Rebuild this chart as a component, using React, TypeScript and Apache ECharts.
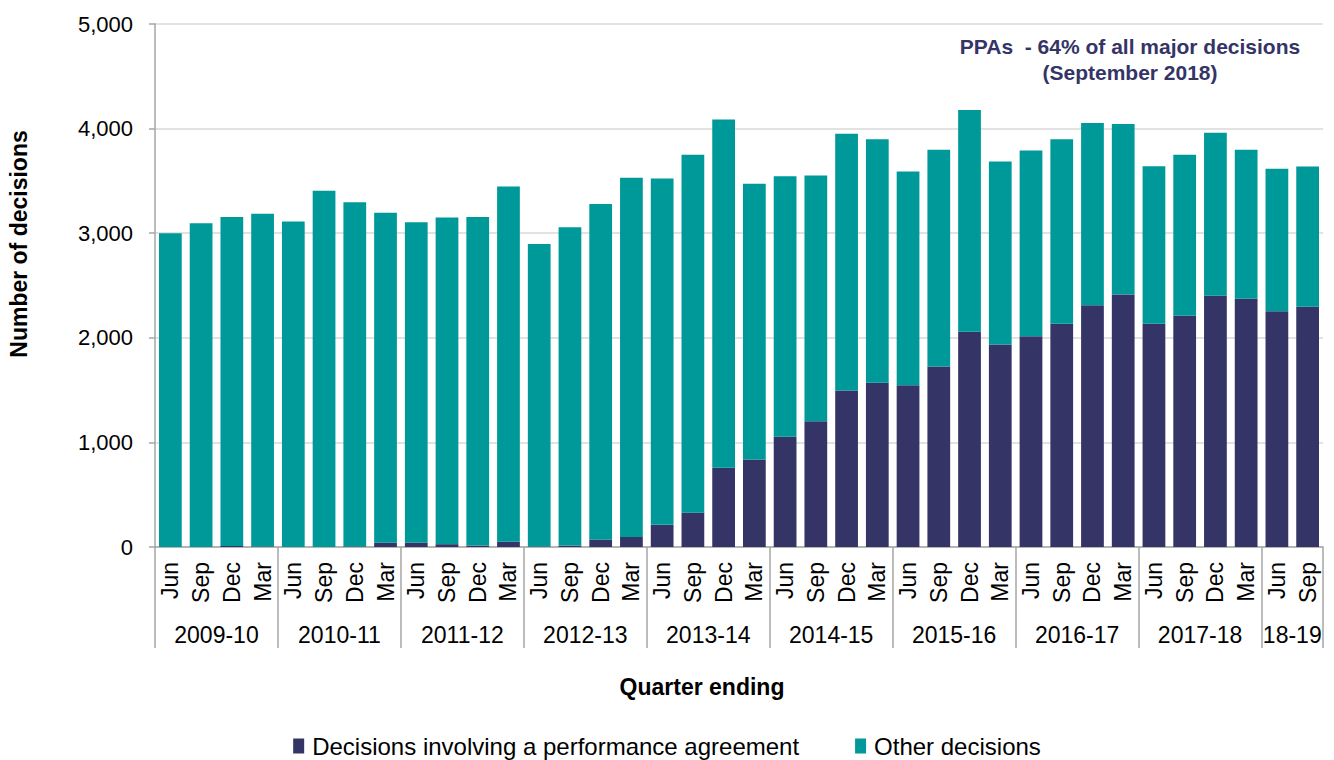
import React, { useEffect, useRef } from "react";
import * as echarts from "echarts";

const months = [
  "Jun", "Sep", "Dec", "Mar", "Jun", "Sep", "Dec", "Mar", "Jun", "Sep", "Dec", "Mar",
  "Jun", "Sep", "Dec", "Mar", "Jun", "Sep", "Dec", "Mar", "Jun", "Sep", "Dec", "Mar",
  "Jun", "Sep", "Dec", "Mar", "Jun", "Sep", "Dec", "Mar", "Jun", "Sep", "Dec", "Mar",
  "Jun", "Sep",
];

const yearLabels = ["2009-10", "2010-11", "2011-12", "2012-13", "2013-14", "2014-15", "2015-16", "2016-17", "2017-18", "18-19"];
const quartersPerYear = [4, 4, 4, 4, 4, 4, 4, 4, 4, 2];

const ppaDecisions = [
  0, 0, 10, 5, 0, 0, 5, 41, 41, 27, 14, 51,
  5, 14, 72, 96, 212, 328, 758, 837, 1055, 1202, 1496, 1571,
  1547, 1725, 2059, 1936, 2015, 2134, 2312, 2414, 2134, 2213, 2401, 2373,
  2254, 2298,
];

const otherDecisions = [
  3000, 3095, 3145, 3181, 3111, 3405, 3290, 3155, 3063, 3122, 3141, 3395,
  2891, 3042, 3206, 3435, 3312, 3422, 3330, 2636, 2490, 2350, 2455, 2326,
  2042, 2072, 2118, 1749, 1776, 1763, 1742, 1629, 1506, 1537, 1560, 1424,
  1362, 1339,
];

const yTicks = [0, 1000, 2000, 3000, 4000, 5000];

const FONT = "'Liberation Sans', Arial, sans-serif";
const NAVY = "#343466";
const TEAL = "#009999";
const AXIS_GRAY = "#a6a6a6";

export default function App() {
  const ref = useRef<HTMLDivElement>(null);

  useEffect(() => {
    if (!ref.current) return;
    const chart = echarts.init(ref.current, undefined, { renderer: "svg" });

    const boundaries: number[] = [0];
    const centers: number[] = [];
    let acc = 0;
    quartersPerYear.forEach((q) => {
      centers.push(acc + q / 2);
      acc += q;
      boundaries.push(acc);
    });

    const option: any = {
      animation: false,
      grid: { left: 155, right: 11, top: 24, bottom: 213, containLabel: false },
      legend: {
        data: ["Decisions involving a performance agreement", "Other decisions"],
        top: 729,
        left: "center",
        icon: "rect",
        itemWidth: 11,
        itemHeight: 15,
        itemGap: 56,
        textStyle: { fontFamily: FONT, fontSize: 24, color: "#000", padding: [0, 0, 0, 3] },
      },
      xAxis: [
        {
          type: "category",
          data: months,
          position: "bottom",
          axisLine: { show: true, lineStyle: { color: AXIS_GRAY, width: 1.5 } },
          axisTick: { show: false },
          axisLabel: {
            rotate: 90,
            interval: 0,
            margin: 15,
            fontFamily: FONT,
            fontSize: 23,
            color: "#000",
          },
        },
        {
          type: "value",
          min: 0,
          max: months.length,
          position: "bottom",
          axisLine: { show: false },
          splitLine: { show: false },
          axisTick: {
            show: true,
            customValues: boundaries,
            length: 101,
            lineStyle: { color: AXIS_GRAY, width: 1.5 },
          },
          axisLabel: {
            customValues: centers,
            margin: 76,
            fontFamily: FONT,
            fontSize: 23,
            color: "#000",
            formatter: (v: number) => {
              const i = centers.findIndex((c) => Math.abs(c - v) < 1e-6);
              return i >= 0 ? yearLabels[i] : "";
            },
          },
        },
      ],
      yAxis: {
        type: "value",
        min: 0,
        max: 5000,
        interval: 1000,
        axisLine: { show: true, lineStyle: { color: AXIS_GRAY, width: 1.5 } },
        axisTick: { show: true, length: 6, lineStyle: { color: AXIS_GRAY, width: 1.5 } },
        splitLine: { show: true, lineStyle: { color: "#d9d9d9", width: 1.5 } },
        axisLabel: {
          margin: 22,
          fontFamily: FONT,
          fontSize: 22,
          color: "#000",
          customValues: yTicks,
          formatter: (v: number) => v.toLocaleString("en-US"),
        },
      },
      series: [
        {
          name: "Decisions involving a performance agreement",
          type: "bar",
          stack: "total",
          xAxisIndex: 0,
          data: ppaDecisions,
          barCategoryGap: "26%",
          itemStyle: { color: NAVY },
        },
        {
          name: "Other decisions",
          type: "bar",
          stack: "total",
          xAxisIndex: 0,
          data: otherDecisions,
          barCategoryGap: "26%",
          itemStyle: { color: TEAL },
        },
      ],
      graphic: [
        {
          type: "text",
          x: 19,
          y: 244,
          rotation: Math.PI / 2,
          style: {
            text: "Number of decisions",
            fontFamily: FONT,
            fontSize: 23,
            fontWeight: "bold",
            fill: "#000",
            align: "center",
            verticalAlign: "middle",
          },
        },
        {
          type: "text",
          x: 702,
          y: 687,
          style: {
            text: "Quarter ending",
            fontFamily: FONT,
            fontSize: 23,
            fontWeight: "bold",
            fill: "#000",
            align: "center",
            verticalAlign: "middle",
          },
        },
        {
          type: "text",
          x: 1130,
          y: 46,
          style: {
            text: "PPAs  - 64% of all major decisions",
            fontFamily: FONT,
            fontSize: 21,
            fontWeight: "bold",
            fill: NAVY,
            align: "center",
            verticalAlign: "middle",
          },
        },
        {
          type: "text",
          x: 1130,
          y: 72,
          style: {
            text: "(September 2018)",
            fontFamily: FONT,
            fontSize: 21,
            fontWeight: "bold",
            fill: NAVY,
            align: "center",
            verticalAlign: "middle",
          },
        },
      ],
    };

    chart.setOption(option);
    return () => chart.dispose();
  }, []);

  return (
    <div
      ref={ref}
      style={{ position: "absolute", left: 0, top: 0, width: 1334, height: 760, background: "#fff" }}
    />
  );
}
